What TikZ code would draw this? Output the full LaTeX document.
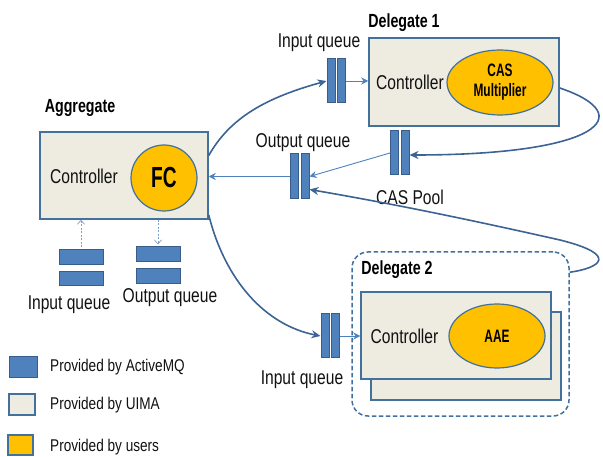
\documentclass[tikz,border=0pt]{standalone}
\usepackage{fontspec}
\setmainfont{Liberation Sans}[FakeStretch=0.78]
\newfontfamily\legfont{Liberation Sans}[FakeStretch=0.80]
\newfontfamily\hdfont{Liberation Sans}[FakeStretch=0.75]
\newfontfamily\cfont{Liberation Sans}[FakeStretch=0.66]
\usetikzlibrary{arrows.meta,shapes.geometric}
\definecolor{boxfill}{HTML}{EEECE1}
\definecolor{boxline}{HTML}{41719C}
\definecolor{userfill}{HTML}{FFC000}
\definecolor{barfill}{HTML}{4F81BD}
\definecolor{barline}{HTML}{385D8A}
\definecolor{curvecol}{HTML}{3C6394}
\definecolor{thincol}{HTML}{4F81BD}
\definecolor{dashcol}{HTML}{7F9FCF}
\definecolor{txt}{HTML}{111111}
\tikzset{
  uimabox/.style={draw=boxline, fill=boxfill, line width=1.5pt, inner sep=0pt},
  userell/.style={draw=boxline, fill=userfill, line width=1.2pt, ellipse, inner sep=0pt},
  bar/.style={draw=barline, fill=barfill, line width=1pt, inner sep=0pt},
  vbar/.style={bar, minimum width=8pt, minimum height=44pt},
  hbar/.style={bar, minimum width=44pt, minimum height=15pt},
  lbl/.style={font=\fontsize{20}{22}\selectfont, text=txt, inner sep=0pt},
  legtxt/.style={font=\legfont\fontsize{17}{19}\selectfont, text=txt, inner sep=0pt, anchor=west},
  title/.style={font=\hdfont\bfseries\fontsize{19}{21}\selectfont, text=black, inner sep=0pt},
  curve/.style={draw=curvecol, line width=1.6pt, -{Stealth[length=9pt,width=8pt]}},
  thin/.style={draw=thincol, line width=0.9pt, -{Stealth[length=7pt,width=7pt]}},
  dasharr/.style={draw=dashcol, line width=0.7pt, dash pattern=on 2pt off 1.5pt, -{Straight Barb[length=4pt,width=7pt]}},
}
\begin{document}
\begin{tikzpicture}[x=1pt,y=-1pt]
\useasboundingbox (0,0) rectangle (603,457);

% ---------------- Aggregate
\node[title] (aggt) at (80,108) {Aggregate};
\node[uimabox, minimum width=168pt, minimum height=87pt] (agg) at (124,175.5) {};
\node[lbl] (aggc) at (84,176) {Controller};
\node[draw=boxline, fill=userfill, line width=1.2pt, circle, minimum size=66pt, inner sep=0pt,
      font=\cfont\bfseries\fontsize{29}{31}\selectfont] (fc) at (164,178) {FC};

\node[hbar] (iqa) at (81,257.5) {};
\node[hbar, minimum height=14pt] (iqb) at (81,279) {};
\node[lbl] (iql) at (69,305) {Input queue};
\node[hbar] (oqa) at (158,254.5) {};
\node[hbar] (oqb) at (158,276.5) {};
\node[lbl] (oql) at (170,298) {Output queue};
\draw[dasharr, shorten <=2pt] (iqa.north) -- (iqa.north |- agg.south);
\draw[dasharr, shorten >=2pt] (oqa.north |- agg.south) -- (oqa.north);

% ---------------- Delegate 1
\node[title] (d1t) at (404,23) {Delegate 1};
\node[uimabox, minimum width=190pt, minimum height=88pt] (d1) at (464,82) {};
\node[lbl] (d1c) at (410,82) {Controller};
\node[userell, minimum width=106pt, minimum height=65pt, align=center,
      font=\cfont\bfseries\fontsize{18}{20}\selectfont] (cas) at (500,82.5) {CAS\\Multiplier};

\node[vbar] (dqa) at (331,81) {};
\node[vbar] (dqb) at (341.5,81) {};
\node[lbl] (dql) at (319,43) {Input queue};

\node[vbar] (cpa) at (394.5,153) {};
\node[vbar] (cpb) at (405,153) {};
\node[lbl] (cpl) at (410,197) {CAS Pool};

\node[vbar, minimum height=45pt] (mqa) at (294,176.5) {};
\node[vbar, minimum height=45pt] (mqb) at (305,176.5) {};
\node[lbl] (mql) at (303,143) {Output queue};

% ---------------- Delegate 2
\node[draw=boxline, line width=1.5pt, dash pattern=on 4.5pt off 2.5pt, rounded corners=16pt,
      minimum width=217pt, minimum height=164pt, inner sep=0pt] (d2) at (460.5,334) {};
\node[title] (d2t) at (397,270) {Delegate 2};
\node[uimabox, minimum width=190pt, minimum height=88pt] (d2back) at (466,356) {};
\node[uimabox, minimum width=190pt, minimum height=87pt] (d2f) at (456,335.5) {};
\node[lbl] (d2c) at (404.5,336) {Controller};
\node[userell, minimum width=96pt, minimum height=64pt,
      font=\cfont\bfseries\fontsize{18}{20}\selectfont] (aae) at (497,336) {AAE};

\node[vbar] (eqa) at (325,336) {};
\node[vbar] (eqb) at (335,336) {};
\node[lbl] (eql) at (302,380) {Input queue};

% ---------------- connectors
\draw[curve] ([yshift=20pt]agg.east) .. controls (230,118) and (265,98) .. (dqa.west);
\draw[curve] ([yshift=-39.5pt]agg.east) .. controls (225,280) and (265,325) .. (eqa.west);
\draw[thin] (dqb.east) -- (dqb.east -| d1.west);
\draw[curve] ([yshift=-6pt]d1.east) .. controls (640,115) and (600,155) .. ([yshift=-2pt]cpb.east);
\draw[curve] ([yshift=-21pt]d2.north east) .. controls (600,268) and (620,255) .. (560,240)
  .. controls (480,222) and (400,205) .. ([yshift=-13pt]mqb.east);
\draw[thin] (cpa.west) -- (mqb.east);
\draw[thin] (mqa.west) -- (mqa.west -| agg.east);
\draw[thin] (eqb.east) -- (eqb.east -| d2f.west);

% ---------------- legend
\node[bar, minimum width=28pt, minimum height=20pt] (lg1) at (23,367) {};
\node[legtxt] (lg1t) at (50,367) {Provided by ActiveMQ};
\node[uimabox, line width=1.5pt, minimum width=26pt, minimum height=21pt] (lg2) at (22,404.5) {};
\node[legtxt] (lg2t) at (50,405) {Provided by UIMA};
\node[draw=boxline, fill=userfill, line width=1.5pt, inner sep=0pt, minimum width=25pt, minimum height=20pt] (lg3) at (20.5,445) {};
\node[legtxt] (lg3t) at (50,447) {Provided by users};
\end{tikzpicture}
\end{document}
